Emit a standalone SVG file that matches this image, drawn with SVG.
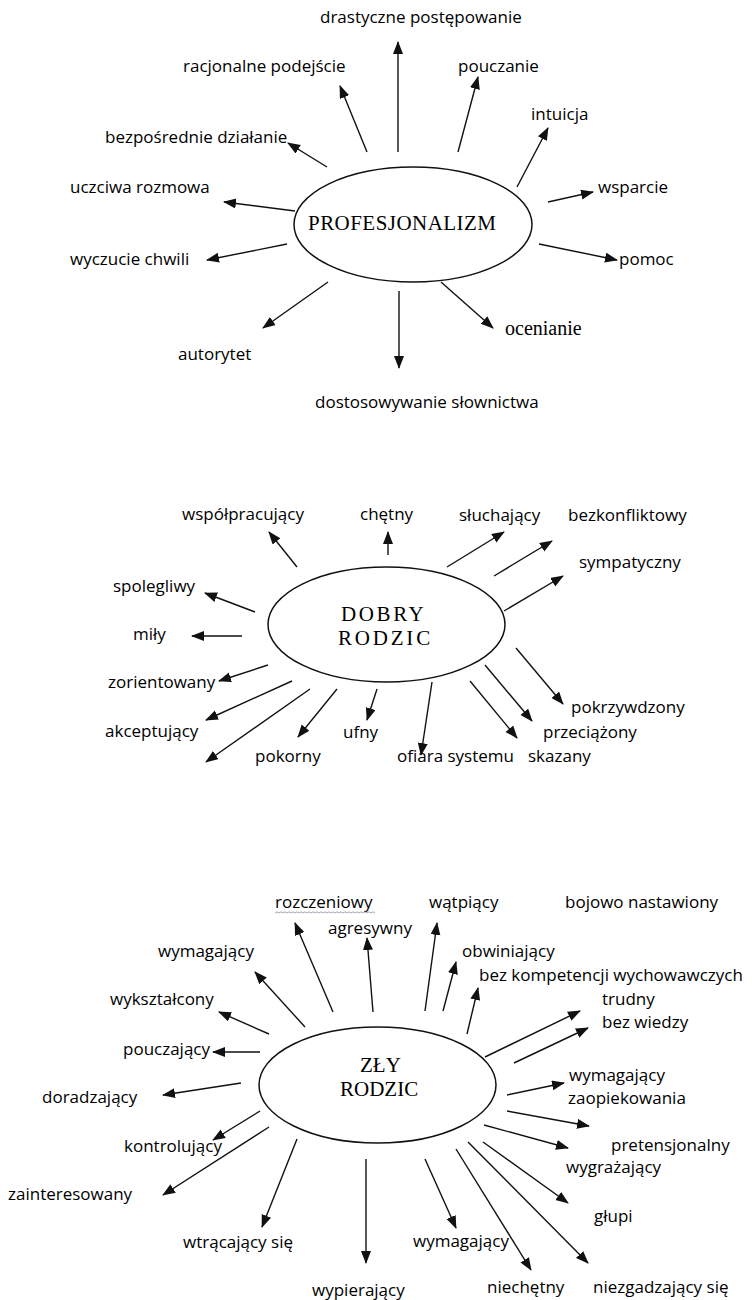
<svg xmlns="http://www.w3.org/2000/svg" width="752" height="1300" viewBox="0 0 752 1300">
<style>
.l{font-family:"Open Sans","Liberation Sans",sans-serif;font-size:17px;fill:#000}
.t{font-family:"Liberation Serif","Times New Roman",serif;font-size:21px;fill:#000}
.e{fill:#fff;stroke:#111;stroke-width:1.5}
.c line{stroke:#111;stroke-width:1.4;marker-end:url(#ah)}
</style>
<defs>
<marker id="ah" markerUnits="userSpaceOnUse" markerWidth="14" markerHeight="12" refX="12" refY="5" orient="auto">
<path d="M0,0 L13,5 L0,10 z" fill="#111"/>
</marker>
</defs>
<rect width="752" height="1300" fill="#fff"/>

<g id="n-profesjonalizm"><ellipse class="e" cx="413" cy="224.5" rx="119" ry="57.5"/><text class="t" x="308" y="230" textLength="188">PROFESJONALIZM</text></g>
<g id="n-drastyczne"><text class="l" x="320" y="23">drastyczne postępowanie</text></g>
<g id="n-racjonalne"><text class="l" x="183" y="72">racjonalne podejście</text></g>
<g id="n-bezposrednie"><text class="l" x="105" y="143">bezpośrednie działanie</text></g>
<g id="n-uczciwa"><text class="l" x="70" y="193">uczciwa rozmowa</text></g>
<g id="n-wyczucie"><text class="l" x="70" y="265">wyczucie chwili</text></g>
<g id="n-autorytet"><text class="l" x="178" y="360">autorytet</text></g>
<g id="n-dostosowywanie"><text class="l" x="315" y="408">dostosowywanie słownictwa</text></g>
<g id="n-ocenianie"><text class="t" x="505" y="335" style="font-size:20px">ocenianie</text></g>
<g id="n-pomoc"><text class="l" x="619" y="265">pomoc</text></g>
<g id="n-wsparcie"><text class="l" x="598" y="193">wsparcie</text></g>
<g id="n-intuicja"><text class="l" x="531" y="120">intuicja</text></g>
<g id="n-pouczanie"><text class="l" x="458" y="72">pouczanie</text></g>

<g id="n-dobry"><ellipse class="e" cx="386.5" cy="624.5" rx="118.5" ry="57.5"/><text class="t" x="341" y="621" letter-spacing="2.6">DOBRY</text><text class="t" x="338" y="645" letter-spacing="2.8">RODZIC</text></g>
<g id="n-wspolpracujacy"><text class="l" x="182" y="520">współpracujący</text></g>
<g id="n-chetny"><text class="l" x="360" y="520">chętny</text></g>
<g id="n-sluchajacy"><text class="l" x="459" y="521">słuchający</text></g>
<g id="n-bezkonfliktowy"><text class="l" x="568" y="521">bezkonfliktowy</text></g>
<g id="n-sympatyczny"><text class="l" x="579" y="568">sympatyczny</text></g>
<g id="n-pokrzywdzony"><text class="l" x="571" y="713">pokrzywdzony</text></g>
<g id="n-przeciazony"><text class="l" x="543" y="738">przeciążony</text></g>
<g id="n-skazany"><text class="l" x="528" y="762">skazany</text></g>
<g id="n-ofiara"><text class="l" x="397" y="762">ofiara systemu</text></g>
<g id="n-ufny"><text class="l" x="343" y="738">ufny</text></g>
<g id="n-pokorny"><text class="l" x="255" y="762">pokorny</text></g>
<g id="n-akceptujacy"><text class="l" x="105" y="737">akceptujący</text></g>
<g id="n-zorientowany"><text class="l" x="108" y="688">zorientowany</text></g>
<g id="n-mily"><text class="l" x="133" y="640">miły</text></g>
<g id="n-spolegliwy"><text class="l" x="113" y="592">spolegliwy</text></g>

<g id="n-zly"><ellipse class="e" cx="377.5" cy="1085" rx="118.5" ry="58"/><text class="t" x="360" y="1072">ZŁY</text><text class="t" x="340" y="1096">RODZIC</text></g>
<g id="n-rozczeniowy"><text class="l" x="275" y="908">rozczeniowy</text><path d="M275,913 l2,-1.2 2,1.2 2,-1.2 2,1.2 2,-1.2 2,1.2 2,-1.2 2,1.2 2,-1.2 2,1.2 2,-1.2 2,1.2 2,-1.2 2,1.2 2,-1.2 2,1.2 2,-1.2 2,1.2 2,-1.2 2,1.2 2,-1.2 2,1.2 2,-1.2 2,1.2 2,-1.2 2,1.2 2,-1.2 2,1.2 2,-1.2 2,1.2 2,-1.2 2,1.2 2,-1.2 2,1.2 2,-1.2 2,1.2 2,-1.2 2,1.2 2,-1.2 2,1.2 2,-1.2 2,1.2 2,-1.2 2,1.2 2,-1.2 2,1.2 2,-1.2 2,1.2 2,-1.2 2,1.2" fill="none" stroke="#9a9aa8" stroke-width="0.9"/></g>
<g id="n-agresywny"><text class="l" x="328" y="934">agresywny</text></g>
<g id="n-watpiacy"><text class="l" x="429" y="908">wątpiący</text></g>
<g id="n-bojowo"><text class="l" x="565" y="908">bojowo nastawiony</text></g>
<g id="n-obwiniajacy"><text class="l" x="462" y="957">obwiniający</text></g>
<g id="n-bezkompetencji"><text class="l" x="479" y="981">bez kompetencji wychowawczych</text></g>
<g id="n-trudny"><text class="l" x="602" y="1005">trudny</text></g>
<g id="n-bezwiedzy"><text class="l" x="602" y="1028">bez wiedzy</text></g>
<g id="n-wymagajacy-r"><text class="l" x="569" y="1081">wymagający</text></g>
<g id="n-zaopiekowania"><text class="l" x="568" y="1104">zaopiekowania</text></g>
<g id="n-pretensjonalny"><text class="l" x="611" y="1151">pretensjonalny</text></g>
<g id="n-wygrazajacy"><text class="l" x="566" y="1173">wygrażający</text></g>
<g id="n-glupi"><text class="l" x="594" y="1222">głupi</text></g>
<g id="n-niezgadzajacy"><text class="l" x="593" y="1293">niezgadzający się</text></g>
<g id="n-niechetny"><text class="l" x="487" y="1293">niechętny</text></g>
<g id="n-wymagajacy-b"><text class="l" x="413" y="1247">wymagający</text></g>
<g id="n-wypierajacy"><text class="l" x="312" y="1296">wypierający</text></g>
<g id="n-wtracajacy"><text class="l" x="183" y="1248">wtrącający się</text></g>
<g id="n-zainteresowany"><text class="l" x="8" y="1200">zainteresowany</text></g>
<g id="n-kontrolujacy"><text class="l" x="124" y="1152">kontrolujący</text></g>
<g id="n-doradzajacy"><text class="l" x="42" y="1103">doradzający</text></g>
<g id="n-pouczajacy"><text class="l" x="123" y="1055">pouczający</text></g>
<g id="n-wyksztalcony"><text class="l" x="110" y="1005">wykształcony</text></g>
<g id="n-wymagajacy-l"><text class="l" x="158" y="957">wymagający</text></g>

<g id="connectors" class="c">
<line x1="398" y1="152" x2="398" y2="42"/>
<line x1="367" y1="152" x2="340" y2="86"/>
<line x1="327" y1="167" x2="288" y2="143"/>
<line x1="295" y1="211" x2="224" y2="202"/>
<line x1="287" y1="244" x2="207" y2="260"/>
<line x1="328" y1="282" x2="263" y2="328"/>
<line x1="399" y1="291" x2="399" y2="368"/>
<line x1="441" y1="282" x2="493" y2="328"/>
<line x1="539" y1="244" x2="617" y2="260"/>
<line x1="548" y1="202" x2="593" y2="192"/>
<line x1="517" y1="187" x2="548" y2="128"/>
<line x1="458" y1="152" x2="478" y2="77"/>

<line x1="297" y1="567" x2="269" y2="532"/>
<line x1="388" y1="555" x2="388" y2="532"/>
<line x1="447" y1="567" x2="504" y2="532"/>
<line x1="494" y1="576" x2="552" y2="541"/>
<line x1="504" y1="611" x2="563" y2="576"/>
<line x1="516" y1="648" x2="563" y2="704"/>
<line x1="485" y1="665" x2="532" y2="721"/>
<line x1="470" y1="681" x2="517" y2="738"/>
<line x1="432" y1="682" x2="421" y2="755"/>
<line x1="377" y1="689" x2="367" y2="720"/>
<line x1="337" y1="689" x2="298" y2="737"/>
<line x1="292" y1="681" x2="206" y2="720"/>
<line x1="310" y1="689" x2="206" y2="762"/>
<line x1="268" y1="665" x2="219" y2="681"/>
<line x1="242" y1="636" x2="192" y2="636"/>
<line x1="255" y1="612" x2="205" y2="593"/>

<line x1="333" y1="1012" x2="295" y2="923"/>
<line x1="373" y1="1012" x2="367" y2="938"/>
<line x1="305" y1="1027" x2="255" y2="972"/>
<line x1="269" y1="1034" x2="219" y2="1012"/>
<line x1="260" y1="1052" x2="213" y2="1052"/>
<line x1="241" y1="1083" x2="163" y2="1095"/>
<line x1="260" y1="1111" x2="213" y2="1140"/>
<line x1="269" y1="1127" x2="163" y2="1195"/>
<line x1="297" y1="1139" x2="262" y2="1227"/>
<line x1="366" y1="1159" x2="366" y2="1263"/>
<line x1="425" y1="1159" x2="456" y2="1228"/>
<line x1="456" y1="1149" x2="531" y2="1270"/>
<line x1="468" y1="1142" x2="588" y2="1263"/>
<line x1="483" y1="1142" x2="568" y2="1203"/>
<line x1="484" y1="1125" x2="568" y2="1148"/>
<line x1="507" y1="1111" x2="589" y2="1126"/>
<line x1="507" y1="1095" x2="564" y2="1083"/>
<line x1="514" y1="1063" x2="588" y2="1028"/>
<line x1="485" y1="1057" x2="580" y2="1011"/>
<line x1="467" y1="1034" x2="478" y2="988"/>
<line x1="443" y1="1011" x2="456" y2="962"/>
<line x1="425" y1="1011" x2="437" y2="923"/>
</g>
</svg>
